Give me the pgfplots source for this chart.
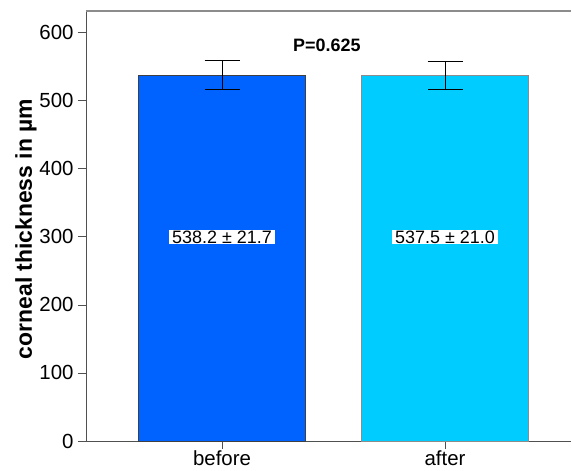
\documentclass[border=0pt]{standalone}
\usepackage{fontspec}
\setmainfont{Liberation Sans}
\usepackage{pgfplots}
\pgfplotsset{compat=1.18}
\definecolor{barA}{RGB}{0,98,255}
\definecolor{barB}{RGB}{0,204,255}
\definecolor{axgray}{RGB}{80,80,80}
\begin{document}
\begin{tikzpicture}
\begin{axis}[
  scale only axis,
  width=485bp, height=430bp,
  xmin=-0.61, xmax=1.565,
  ymin=0, ymax=632,
  axis x line*=bottom,
  axis y line*=left,
  axis line style={axgray, line width=0.8bp},
  xtick={0,1}, xticklabels={before,after},
  ytick={0,100,200,300,400,500,600},
  tick style={axgray, line width=0.8bp},
  major tick length=8bp,
  tick align=outside,
  /pgf/number format/assume math mode=true,
  ticklabel style={font=\fontsize{20.5}{24}\selectfont},
  xticklabel style={yshift=1.5bp},
  yticklabel style={xshift=-1bp},
  ybar, bar width=0.75, bar shift=0pt,
  clip=false,
]
\addplot[fill=barA, draw=black!75, line width=0.6bp,
  error bars/.cd, y dir=both, y explicit,
  error bar style={black, line width=0.7bp},
  error mark options={rotate=90, mark size=17.5bp, black, line width=0.7bp}]
  coordinates {(0,538.2) +- (0,21.7)};
\addplot[fill=barB, draw=black!45, line width=0.6bp,
  error bars/.cd, y dir=both, y explicit,
  error bar style={black, line width=0.7bp},
  error mark options={rotate=90, mark size=17.5bp, black, line width=0.7bp}]
  coordinates {(1,537.5) +- (0,21.0)};
\node[fill=white, inner xsep=3.5bp, inner ysep=1bp, font=\fontsize{18}{21}\selectfont] at (axis cs:0,300) {538.2 ± 21.7};
\node[fill=white, inner xsep=3.5bp, inner ysep=1bp, font=\fontsize{18}{21}\selectfont] at (axis cs:1,300) {537.5 ± 21.0};
\node[font=\bfseries\fontsize{18}{21}\selectfont] at (axis cs:0.47,582) {P=0.625};
\node[rotate=90, anchor=base, font=\bfseries\fontsize{23}{27}\selectfont] at ([xshift=-54bp, yshift=-3bp]rel axis cs:0,0.5) {corneal thickness in µm};
\draw[black!45, line width=1.2bp] (rel axis cs:0,1) -- (rel axis cs:1,1);
\end{axis}
\pgfresetboundingbox
\path (current axis.south west) ++(-86bp,-30bp) rectangle ++(572bp,471bp);
\end{tikzpicture}
\end{document}
